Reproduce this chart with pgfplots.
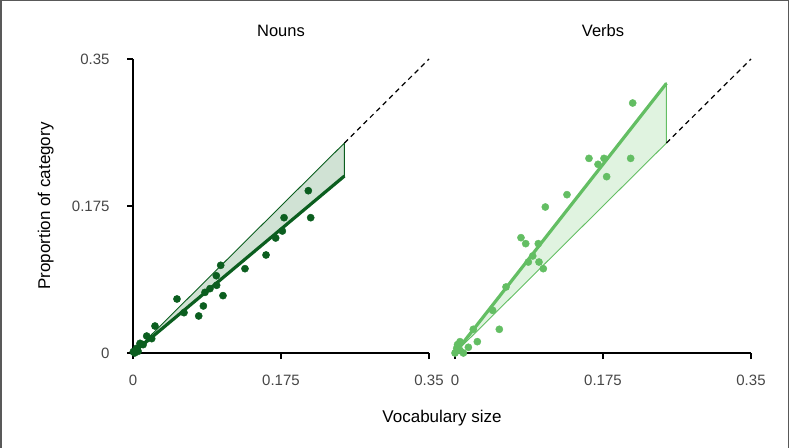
\documentclass[border=0pt]{standalone}
\usepackage{fontspec}
\setmainfont{Liberation Sans}
\usepackage{pgfplots}
\pgfplotsset{compat=1.18}

\definecolor{noun}{RGB}{11,94,31}
\definecolor{nounfill}{RGB}{208,226,212}
\definecolor{verb}{RGB}{99,190,99}
\definecolor{verbfill}{RGB}{224,243,224}
\definecolor{tickgrey}{RGB}{70,70,70}

\pgfplotstableread{
x y
0.2073 0.1932
0.2101 0.1611
0.1786 0.1611
0.1766 0.1452
0.1687 0.1369
0.1573 0.1167
0.1324 0.1004
0.1037 0.1044
0.0985 0.0920
0.0989 0.0806
0.0910 0.0766
0.0851 0.0722
0.1064 0.0683
0.0832 0.0560
0.0777 0.0441
0.0603 0.0480
0.0520 0.0643
0.0260 0.0321
0.0221 0.0171
0.0162 0.0202
0.0083 0.0115
0.0043 0.0056
0.0004 0.0016
0.0020 0.0000
0.0120 0.0100
0.0060 0.0020
}\nouns

\pgfplotstableread{
x y
0.2101 0.2976
0.2077 0.2317
0.1584 0.2317
0.1762 0.2317
0.1691 0.2246
0.1793 0.2099
0.1324 0.1885
0.1068 0.1738
0.0780 0.1373
0.0836 0.1302
0.0985 0.1302
0.0919 0.1155
0.0867 0.1083
0.0993 0.1083
0.1044 0.1004
0.0603 0.0786
0.0445 0.0508
0.0524 0.0282
0.0216 0.0282
0.0264 0.0135
0.0158 0.0068
0.0059 0.0135
0.0020 0.0056
0.0099 0.0000
0.0000 0.0000
0.0060 0.0030
0.0030 0.0100
}\verbs

\pgfplotsset{
  panel/.style={
    scale only axis,
    width=296bp, height=294bp,
    xmin=0, xmax=0.35, ymin=0, ymax=0.35,
    axis x line*=bottom,
    clip=false,
    axis line style={black, line width=1.2bp},
    tick style={black, line width=1.2bp},
    tick align=outside,
    major tick length=6bp,
    xtick={0,0.175,0.35},
    xticklabels={0,0.175,0.35},
    ticklabel style={font=\fontsize{15bp}{18bp}\selectfont, text=tickgrey},
    xticklabel style={yshift=-13bp},
    /pgf/number format/assume math mode=true,
    title style={at={(0.5,1)}, anchor=base, yshift=17bp,
      font=\fontsize{16.5bp}{20bp}\selectfont},
  },
}

\begin{document}
\begin{tikzpicture}
\useasboundingbox (0,0) rectangle (789bp,448bp);
\draw[gray!70!black, line width=1.5bp] (0.75bp,0) -- (0.75bp,447.25bp) -- (788.25bp,447.25bp) -- (788.25bp,0);

% Nouns
\begin{axis}[panel, at={(133bp,95bp)}, anchor=south west,
  axis y line*=left,
  ytick={0,0.175,0.35},
  yticklabels={0,0.175,0.35},
  yticklabel style={xshift=-14bp},
  title={Nouns}]
\addplot[draw=noun, line width=0.9bp, fill=nounfill]
  coordinates {(0,0) (0.25,0.25) (0.25,0.2107) (0,0)};
\addplot[noun, line width=3.2bp] coordinates {(0,0) (0.25,0.2107)};
\addplot[black, line width=1.2bp, dash pattern=on 5bp off 4bp]
  coordinates {(0.25,0.25) (0.35,0.35)};
\addplot[only marks, mark=*, mark size=3.6bp, color=noun] table {\nouns};
\end{axis}

% Verbs
\begin{axis}[panel, at={(455bp,95bp)}, anchor=south west,
  axis y line=none,
  title={Verbs}]
\addplot[draw=verb, line width=0.9bp, fill=verbfill]
  coordinates {(0,0) (0.25,0.25) (0.25,0.321) (0,0)};
\addplot[verb, line width=3.2bp] coordinates {(0,0) (0.25,0.321)};
\addplot[black, line width=1.2bp, dash pattern=on 5bp off 4bp]
  coordinates {(0.25,0.25) (0.35,0.35)};
\addplot[only marks, mark=*, mark size=3.6bp, color=verb] table {\verbs};
\end{axis}

\node[anchor=base, font=\fontsize{17bp}{20bp}\selectfont] at (442bp,26bp) {Vocabulary size};
\node[rotate=90, anchor=base, font=\fontsize{17bp}{20bp}\selectfont] at (50bp,242bp) {Proportion of category};
\end{tikzpicture}
\end{document}
